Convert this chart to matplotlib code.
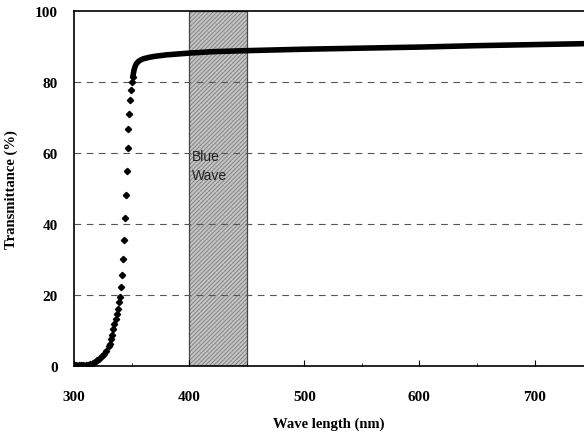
import matplotlib.pyplot as plt
from matplotlib.patches import Rectangle

# Steep absorption edge, read dot by dot
edge_nm = [300, 302, 304, 306, 308, 310, 312, 314, 316, 318, 320, 322, 324,
           326, 328, 330, 331, 332, 333, 334, 335, 336, 337, 338, 339,
           340.0, 340.8, 341.6, 342.4, 343.2, 344.0, 344.8, 345.6, 346.4,
           347.2, 348.0, 348.8, 349.6, 350.4, 351.0]
edge_t = [0.2, 0.2, 0.2, 0.2, 0.2, 0.3, 0.4, 0.6, 0.9, 1.2, 1.6, 2.1, 2.7,
          3.3, 4.3, 5.5, 6.3, 7.5, 8.8, 10.4, 11.7, 13.2, 14.6, 16.1, 18.0,
          19.5, 22.2, 25.6, 30.1, 35.6, 41.6, 48.2, 54.9, 61.3,
          66.8, 71.0, 74.9, 77.6, 79.9, 81.5]

# Plateau, dense data reads as a thick line
plateau_nm = [351, 352, 353, 354, 356, 358, 360, 365, 370, 380, 400, 420,
              450, 500, 550, 600, 650, 700, 750]
plateau_t = [81.5, 83.3, 84.4, 85.1, 85.8, 86.2, 86.5, 86.9, 87.2, 87.6, 88.1,
             88.5, 88.8, 89.2, 89.5, 89.8, 90.2, 90.5, 90.8]

band = (400, 450)

serif = ['Liberation Serif', 'DejaVu Serif']
plt.rcParams['hatch.linewidth'] = 0.6
plt.rcParams['hatch.color'] = '#7a7a7a'

fig = plt.figure(figsize=(5.84, 4.39), dpi=100)
ax = fig.add_axes([0.127, 0.164, 0.873, 0.809])

ax.add_patch(Rectangle((band[0], 0), band[1] - band[0], 100,
                       facecolor='#c4c4c4', edgecolor='#7a7a7a', hatch='////////',
                       linewidth=0, zorder=1))
ax.add_patch(Rectangle((band[0], 0), band[1] - band[0], 100,
                       facecolor='none', edgecolor='#444444',
                       linewidth=0.9, zorder=1.5))
ax.text(402.5, 56.5, 'Blue\nWave', fontsize=10, family='Liberation Sans',
        color='#222222', ha='left', va='center', linespacing=1.45, zorder=4)

for yv in [20, 40, 60, 80]:
    ax.axhline(yv, color='#555555', linestyle=(0, (6, 5)), linewidth=0.8, zorder=2)

ax.plot(plateau_nm, plateau_t, color='black', linewidth=4,
        solid_capstyle='round', zorder=3)
ax.plot(edge_nm, edge_t, linestyle='none', marker='D', markersize=3.2,
        color='black', zorder=3)

ax.set_xlim(300, 743)
ax.set_ylim(0, 100)
ax.set_xticks([300, 400, 500, 600, 700])
ax.set_xticks([350, 450, 550, 650], minor=True)
ax.set_yticks([0, 20, 40, 60, 80, 100])
ax.tick_params(axis='x', which='major', direction='in', length=4, width=0.8, pad=17)
ax.tick_params(axis='x', which='minor', direction='in', length=2, width=0.6)
ax.tick_params(axis='y', length=0, pad=12)
for lab in ax.get_xticklabels() + ax.get_yticklabels():
    lab.set_family(serif)
    lab.set_fontweight('bold')
    lab.set_fontsize(11)

ax.set_xlabel('Wave length (nm)', family=serif, fontweight='bold',
              fontsize=10.5, labelpad=10)
ax.set_ylabel('Transmittance (%)', family=serif, fontweight='bold',
              fontsize=10.5, labelpad=12)

ax.spines['right'].set_visible(False)
for s in ['left', 'top', 'bottom']:
    ax.spines[s].set_linewidth(1.2)

fig.savefig('out.png', dpi=100)
